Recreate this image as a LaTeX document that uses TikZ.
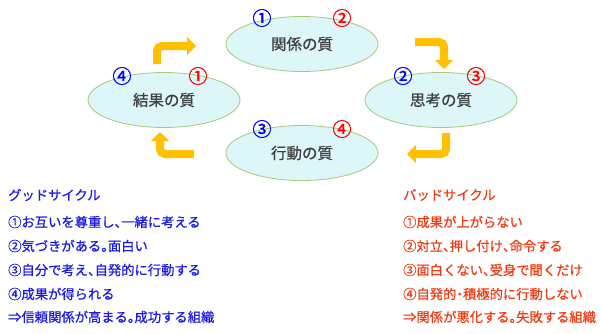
\documentclass[tikz,border=0pt]{standalone}
\usepackage{fontspec}
\setmainfont{Noto Sans CJK JP}
\newfontfamily\jp{Noto Sans CJK JP}
\newfontfamily\jpb{Noto Sans CJK JP}[FakeBold=0.7]
\newfontfamily\jpbb{Noto Sans CJK JP}[FakeBold=1.4]
\usetikzlibrary{arrows.meta,shapes.geometric}
\newcommand{\ten}{\hbox to 0.5em{、\hss}}
\newcommand{\maru}{\hbox to 0.5em{。\hss}}
\newcommand{\naka}{\hbox to 0.5em{\hss ・\hss}}
\definecolor{ellfill}{HTML}{DDF6F8}
\definecolor{elldraw}{HTML}{A8C878}
\definecolor{arrgold}{HTML}{FFC000}
\definecolor{goodblue}{HTML}{1A1AE6}
\definecolor{badred}{HTML}{F03C14}
\definecolor{numblue}{HTML}{0000FF}
\definecolor{numred}{HTML}{FF0000}
\definecolor{elltext}{HTML}{404040}
\tikzset{
  qual/.style={ellipse, draw=elldraw, fill=ellfill, line width=0.8pt, minimum width=152pt, minimum height=55pt, inner sep=0pt, font=\jpb\fontsize{15.5}{16}\selectfont, text=elltext},
  nb/.style={text=numblue, font=\jpbb\fontsize{19}{19}\selectfont, inner sep=0pt},
  nr/.style={text=numred, font=\jpbb\fontsize{19}{19}\selectfont, inner sep=0pt},
  cyc/.style={draw=arrgold, line width=8pt, rounded corners=5pt, -{Triangle[length=9pt,width=18pt]}},
  good/.style={anchor=west, text=goodblue, font=\jpb\fontsize{13.3}{13.3}\selectfont, inner sep=0pt},
  bad/.style={anchor=west, text=badred, font=\jpb\fontsize{13.3}{13.3}\selectfont, inner sep=0pt}
}
\begin{document}
\begin{tikzpicture}[x=1pt,y=-1pt]
\useasboundingbox (0,0) rectangle (602,333);
% ellipses
\node[qual] (kankei) at (302,44) {関係の質};
\node[qual] (kekka) at (164,100) {結果の質};
\node[qual] (shikou) at (441,100) {思考の質};
\node[qual] (koudou) at (302,153) {行動の質};
% numbers
\node[nb] (k1) at (262,18) {①};
\node[nr] (k2) at (342,18) {②};
\node[nb] (r4) at (122,76) {④};
\node[nr] (r1) at (198,76) {①};
\node[nb] (s2) at (403,76) {②};
\node[nr] (s3) at (476,76) {③};
\node[nb] (a3) at (262,129) {③};
\node[nr] (a4) at (342,129) {④};
% cycle arrows
\coordinate (a1s) at (157,64); \coordinate (a1c) at (157,46); \coordinate (a1e) at (196,46);
\coordinate (a2s) at (415,42); \coordinate (a2c) at (444,42); \coordinate (a2e) at (444,69);
\coordinate (a3s) at (446,133); \coordinate (a3c) at (446,154); \coordinate (a3e) at (407,154);
\coordinate (a4s) at (194,154); \coordinate (a4c) at (160,154); \coordinate (a4e) at (160,132);
\draw[cyc] (a1s) -- (a1c) -- (a1e);
\draw[cyc] (a2s) -- (a2c) -- (a2e);
\draw[cyc] (a3s) -- (a3c) -- (a3e);
\draw[cyc] (a4s) -- (a4c) -- (a4e);
% good cycle text
\node[good] (g0) at (8,195) {グッドサイクル};
\node[good] (g1) at (8,222) {①お互いを尊重し\ten 一緒に考える};
\node[good] (g2) at (8,246) {②気づきがある\maru 面白い};
\node[good] (g3) at (8,270) {③自分で考え\ten 自発的に行動する};
\node[good] (g4) at (8,294) {④成果が得られる};
\node[good] (g5) at (8,317) {⇒信頼関係が高まる\maru 成功する組織};
% bad cycle text
\node[bad] (b0) at (403,195) {バッドサイクル};
\node[bad] (b1) at (403,222) {①成果が上がらない};
\node[bad] (b2) at (403,246) {②対立\ten 押し付け\ten 命令する};
\node[bad] (b3) at (403,270) {③面白くない\ten 受身で聞くだけ};
\node[bad] (b4) at (403,294) {④自発的\naka 積極的に行動しない};
\node[bad] (b5) at (403,317) {⇒関係が悪化する\maru 失敗する組織};
\end{tikzpicture}
\end{document}
